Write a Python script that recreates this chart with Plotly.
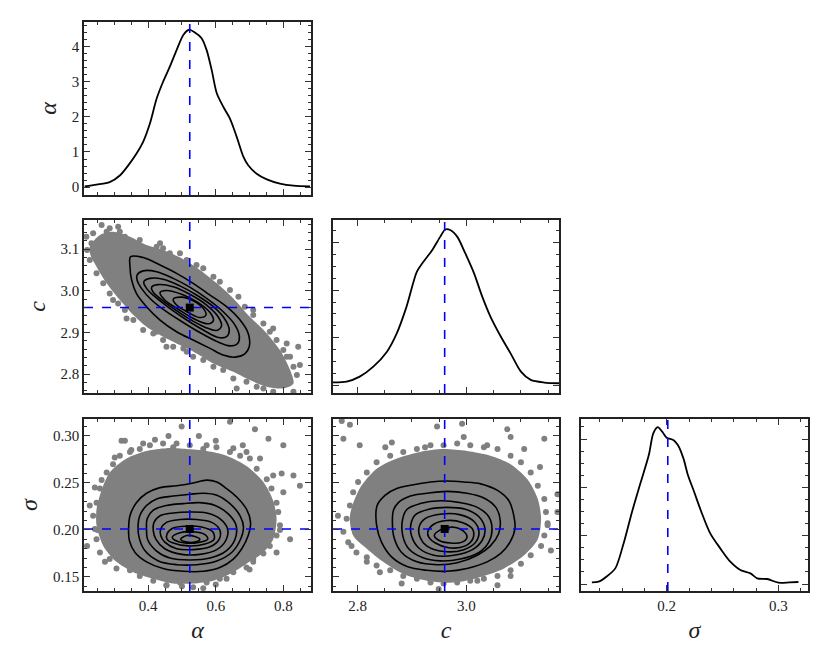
import plotly.graph_objects as go

# valeurs vraies (lignes bleues + carré noir)
alpha_true = 0.523
c_true = 2.960
sigma_true = 0.201

# bornes des axes
ALPHA_RANGE = [0.21, 0.882]
C_RANGE = [2.755, 3.170]
SIGMA_RANGE = [0.135, 0.318]
SIGMA_1D_RANGE = [0.1233, 0.3266]
PDF_A_RANGE = [-0.224, 4.70]
PDF_C_RANGE = [-0.33, 6.96]
PDF_S_RANGE = [-0.72, 17.07]

# densités marginales (1D)
alpha_x = [0.212, 0.247, 0.286, 0.316, 0.341, 0.365, 0.385, 0.405, 0.425, 0.444, 0.464, 0.484, 0.504, 0.521,
           0.538, 0.558, 0.573, 0.588, 0.603, 0.622, 0.642, 0.662, 0.682, 0.696, 0.721, 0.751, 0.790, 0.830, 0.879]
alpha_pdf = [0.02, 0.07, 0.14, 0.33, 0.62, 0.95, 1.29, 1.81, 2.52, 3.00, 3.43, 3.90, 4.33, 4.48,
             4.40, 4.24, 3.90, 3.33, 2.67, 2.29, 1.95, 1.43, 0.86, 0.62, 0.38, 0.22, 0.10, 0.04, 0.02]

c_x = [2.755, 2.780, 2.804, 2.829, 2.854, 2.872, 2.890, 2.909, 2.921, 2.937, 2.952, 2.961, 2.971, 2.983,
       2.998, 3.014, 3.029, 3.044, 3.063, 3.081, 3.100, 3.118, 3.143, 3.170]
c_pdf = [0.12, 0.15, 0.36, 0.78, 1.41, 2.18, 3.31, 4.78, 5.20, 5.69, 6.26, 6.56, 6.53, 6.26,
         5.55, 4.71, 3.73, 2.89, 2.05, 1.34, 0.57, 0.22, 0.11, 0.08]

sigma_x = [0.133, 0.139, 0.146, 0.154, 0.161, 0.169, 0.176, 0.184, 0.188, 0.192, 0.196, 0.200, 0.206, 0.210,
           0.215, 0.219, 0.224, 0.231, 0.239, 0.248, 0.257, 0.266, 0.275, 0.281, 0.290, 0.300, 0.310, 0.318]
sigma_pdf = [0.17, 0.24, 0.76, 1.62, 4.03, 7.48, 10.24, 13.34, 15.59, 16.24, 15.76, 15.14, 14.90, 14.38,
             13.00, 11.28, 9.72, 7.48, 5.24, 3.69, 2.31, 1.45, 1.10, 0.59, 0.52, 0.14, 0.17, 0.21]

# --- alpha / c ---
ac_cloud_alpha = [0.227, 0.257, 0.296, 0.346, 0.395, 0.444, 0.499, 0.553, 0.603, 0.652, 0.701, 0.751, 0.790, 0.820,
                  0.830, 0.800, 0.751, 0.701, 0.652, 0.593, 0.543, 0.494, 0.444, 0.395, 0.356, 0.316, 0.277, 0.247, 0.229]
ac_cloud_c = [3.106, 3.134, 3.142, 3.130, 3.110, 3.098, 3.078, 3.050, 3.018, 2.982, 2.938, 2.898, 2.858, 2.810,
              2.778, 2.766, 2.770, 2.786, 2.806, 2.826, 2.850, 2.870, 2.890, 2.914, 2.942, 2.978, 3.018, 3.058, 3.086]
ac_pts_alpha = [0.262, 0.286, 0.311, 0.232, 0.252, 0.336, 0.454, 0.425, 0.770, 0.810, 0.844, 0.849, 0.790,
                0.741, 0.770, 0.830, 0.435, 0.375, 0.217, 0.296, 0.711, 0.662, 0.514, 0.810,
                0.237, 0.247, 0.267, 0.277, 0.296, 0.316, 0.331, 0.351, 0.365, 0.385, 0.410, 0.425, 0.444,
                0.464, 0.494, 0.514, 0.543, 0.563, 0.593, 0.612, 0.642, 0.667, 0.686, 0.711, 0.741, 0.760,
                0.780, 0.800, 0.820, 0.830, 0.840, 0.810, 0.780, 0.741, 0.721, 0.691, 0.652, 0.622, 0.593,
                0.563, 0.533, 0.504, 0.474, 0.444, 0.415, 0.385, 0.356, 0.331, 0.311, 0.286, 0.267, 0.247,
                0.227, 0.219]
ac_pts_c = [3.158, 3.150, 3.154, 3.114, 3.078, 2.934, 2.866, 2.902, 2.910, 2.842, 2.866, 2.822, 2.782,
            2.766, 2.758, 2.758, 3.114, 3.122, 3.130, 2.978, 2.954, 2.766, 2.854, 2.874,
            3.138, 3.114, 3.130, 3.142, 3.134, 3.142, 3.130, 3.118, 3.110, 3.098, 3.098, 3.106, 3.102,
            3.090, 3.090, 3.074, 3.062, 3.054, 3.034, 3.022, 3.002, 2.986, 2.962, 2.942, 2.922, 2.902,
            2.882, 2.858, 2.842, 2.818, 2.798, 2.782, 2.774, 2.782, 2.770, 2.782, 2.790, 2.810, 2.818,
            2.834, 2.842, 2.862, 2.866, 2.882, 2.898, 2.906, 2.930, 2.954, 2.970, 2.994, 3.018, 3.042,
            3.074, 3.098]
ac_lev_alpha = [
    [0.348, 0.385, 0.435, 0.484, 0.533, 0.583, 0.632, 0.672, 0.696, 0.699, 0.686, 0.657, 0.622, 0.583, 0.533,
     0.484, 0.435, 0.395, 0.365, 0.351, 0.346],
    [0.367, 0.385, 0.425, 0.474, 0.523, 0.573, 0.622, 0.657, 0.670, 0.664, 0.642, 0.602, 0.553, 0.504, 0.454,
     0.410, 0.380, 0.367],
    [0.387, 0.405, 0.444, 0.494, 0.543, 0.593, 0.627, 0.640, 0.632, 0.608, 0.563, 0.514, 0.464, 0.420, 0.395],
    [0.410, 0.429, 0.474, 0.523, 0.573, 0.607, 0.617, 0.602, 0.568, 0.519, 0.469, 0.430, 0.413],
    [0.435, 0.454, 0.499, 0.548, 0.583, 0.593, 0.578, 0.538, 0.489, 0.449],
    [0.474, 0.499, 0.533, 0.563, 0.571, 0.553, 0.519, 0.484],
]
ac_lev_c = [
    [3.082, 3.080, 3.062, 3.042, 3.018, 2.990, 2.962, 2.930, 2.898, 2.866, 2.849, 2.841, 2.846, 2.862, 2.882,
     2.902, 2.930, 2.962, 2.994, 3.026, 3.058],
    [3.038, 3.048, 3.046, 3.030, 3.009, 2.982, 2.950, 2.918, 2.890, 2.873, 2.868, 2.879, 2.900, 2.924, 2.950,
     2.978, 3.006, 3.026],
    [3.022, 3.030, 3.028, 3.012, 2.990, 2.962, 2.932, 2.906, 2.890, 2.888, 2.906, 2.930, 2.958, 2.986, 3.006],
    [3.009, 3.015, 3.010, 2.992, 2.966, 2.938, 2.916, 2.905, 2.913, 2.934, 2.961, 2.985, 2.999],
    [2.996, 3.001, 2.992, 2.972, 2.948, 2.929, 2.921, 2.932, 2.956, 2.978],
    [2.980, 2.985, 2.976, 2.958, 2.942, 2.936, 2.948, 2.966],
]

# --- alpha / sigma ---
as_cloud_alpha = [0.257, 0.286, 0.336, 0.395, 0.454, 0.514, 0.573, 0.632, 0.691, 0.741, 0.770, 0.780, 0.770,
                  0.741, 0.691, 0.642, 0.593, 0.533, 0.474, 0.415, 0.356, 0.306, 0.267, 0.247, 0.247]
as_cloud_sigma = [0.237, 0.261, 0.276, 0.284, 0.287, 0.286, 0.284, 0.279, 0.268, 0.251, 0.231, 0.212, 0.190,
                  0.176, 0.164, 0.153, 0.146, 0.143, 0.143, 0.148, 0.155, 0.166, 0.183, 0.205, 0.222]
as_pts_alpha = [0.499, 0.642, 0.716, 0.756, 0.800, 0.830, 0.849, 0.795, 0.242, 0.227, 0.219, 0.272, 0.301, 0.321,
                0.385, 0.573, 0.652, 0.731, 0.563, 0.405, 0.711, 0.820, 0.770, 0.272, 0.331, 0.474, 0.691, 0.800,
                0.780, 0.454, 0.632, 0.350, 0.420, 0.460, 0.600, 0.550, 0.680, 0.300, 0.250, 0.290, 0.790, 0.500,
                0.600, 0.700,
                0.257, 0.247, 0.237, 0.242, 0.247, 0.257, 0.286, 0.306, 0.346, 0.375, 0.415, 0.454, 0.494,
                0.533, 0.573, 0.612, 0.652, 0.691, 0.711, 0.741, 0.760, 0.780, 0.790, 0.785, 0.780, 0.765,
                0.751, 0.721, 0.701, 0.672, 0.642, 0.602, 0.563, 0.523, 0.484, 0.444, 0.405, 0.375, 0.346,
                0.316, 0.296, 0.277, 0.262]
as_pts_sigma = [0.310, 0.315, 0.307, 0.297, 0.290, 0.258, 0.247, 0.260, 0.245, 0.226, 0.183, 0.166, 0.277, 0.295,
                0.292, 0.290, 0.287, 0.276, 0.138, 0.155, 0.166, 0.190, 0.258, 0.238, 0.295, 0.288, 0.283, 0.240,
                0.176, 0.141, 0.148, 0.285, 0.296, 0.300, 0.295, 0.300, 0.290, 0.260, 0.200, 0.185, 0.200, 0.140,
                0.142, 0.158,
                0.244, 0.229, 0.215, 0.201, 0.190, 0.176, 0.169, 0.159, 0.157, 0.151, 0.146, 0.141, 0.144,
                0.139, 0.144, 0.148, 0.155, 0.160, 0.169, 0.175, 0.183, 0.194, 0.205, 0.219, 0.229, 0.244,
                0.254, 0.265, 0.276, 0.279, 0.283, 0.288, 0.286, 0.290, 0.292, 0.292, 0.290, 0.286, 0.283,
                0.279, 0.270, 0.261, 0.253]
as_lev_alpha = [
    [0.346, 0.365, 0.395, 0.435, 0.484, 0.533, 0.573, 0.603, 0.632, 0.662, 0.691, 0.703, 0.696, 0.677, 0.652,
     0.612, 0.563, 0.504, 0.444, 0.395, 0.361, 0.344, 0.342],
    [0.375, 0.395, 0.425, 0.474, 0.524, 0.563, 0.603, 0.642, 0.672, 0.682, 0.672, 0.647, 0.603, 0.543, 0.484,
     0.430, 0.390, 0.373, 0.370],
    [0.397, 0.415, 0.454, 0.504, 0.553, 0.598, 0.637, 0.660, 0.657, 0.632, 0.583, 0.524, 0.464, 0.423, 0.398, 0.395],
    [0.417, 0.435, 0.474, 0.524, 0.573, 0.612, 0.635, 0.630, 0.603, 0.553, 0.499, 0.449, 0.423, 0.415],
    [0.437, 0.454, 0.494, 0.543, 0.588, 0.612, 0.610, 0.583, 0.533, 0.484, 0.449, 0.437],
    [0.456, 0.474, 0.514, 0.558, 0.591, 0.595, 0.568, 0.519, 0.474, 0.456],
    [0.471, 0.494, 0.533, 0.568, 0.576, 0.553, 0.509, 0.479],
    [0.496, 0.514, 0.538, 0.553, 0.538, 0.514],
]
as_lev_sigma = [
    [0.215, 0.229, 0.239, 0.245, 0.247, 0.250, 0.253, 0.251, 0.244, 0.235, 0.222, 0.208, 0.194, 0.180, 0.169,
     0.160, 0.156, 0.156, 0.159, 0.166, 0.176, 0.189, 0.201],
    [0.215, 0.226, 0.233, 0.236, 0.238, 0.239, 0.237, 0.228, 0.215, 0.203, 0.189, 0.176, 0.167, 0.163, 0.163,
     0.167, 0.178, 0.192, 0.205],
    [0.212, 0.221, 0.226, 0.228, 0.229, 0.226, 0.217, 0.205, 0.190, 0.178, 0.170, 0.168, 0.170, 0.178, 0.190, 0.201],
    [0.208, 0.215, 0.218, 0.219, 0.218, 0.212, 0.201, 0.189, 0.179, 0.174, 0.174, 0.180, 0.190, 0.199],
    [0.201, 0.208, 0.211, 0.211, 0.208, 0.200, 0.190, 0.182, 0.179, 0.180, 0.187, 0.194],
    [0.196, 0.202, 0.204, 0.203, 0.198, 0.190, 0.185, 0.183, 0.186, 0.190],
    [0.192, 0.197, 0.198, 0.195, 0.190, 0.187, 0.186, 0.189],
    [0.190, 0.194, 0.193, 0.190, 0.187, 0.187],
]

# --- c / sigma ---
cs_cloud_c = [2.786, 2.804, 2.835, 2.872, 2.915, 2.958, 3.001, 3.044, 3.081, 3.112, 3.131, 3.137, 3.131, 3.106,
              3.069, 3.026, 2.977, 2.927, 2.884, 2.847, 2.817, 2.792]
cs_cloud_sigma = [0.215, 0.244, 0.265, 0.276, 0.283, 0.286, 0.284, 0.279, 0.270, 0.254, 0.233, 0.212, 0.190, 0.173,
                  0.159, 0.150, 0.144, 0.146, 0.153, 0.166, 0.180, 0.194]
cs_pts_c = [2.771, 2.786, 2.774, 2.804, 2.851, 2.863, 2.946, 2.995, 3.075, 3.143, 3.135, 3.167, 3.149, 3.155,
            2.881, 2.789, 2.764, 2.934, 3.020, 2.949, 3.081, 2.992, 2.924, 3.038, 3.106, 3.081, 3.167, 2.817,
            2.841, 3.057,
            2.786, 2.780, 2.774, 2.783, 2.798, 2.817, 2.835, 2.860, 2.884, 2.909, 2.934, 2.958, 2.983,
            3.007, 3.032, 3.057, 3.081, 3.100, 3.118, 3.137, 3.143, 3.149, 3.146, 3.143, 3.131, 3.118,
            3.100, 3.081, 3.057, 3.032, 3.007, 2.983, 2.958, 2.934, 2.909, 2.884, 2.860, 2.835, 2.817,
            2.801, 2.792]
cs_pts_sigma = [0.316, 0.312, 0.297, 0.290, 0.288, 0.293, 0.310, 0.299, 0.307, 0.297, 0.267, 0.238, 0.207, 0.178,
                0.143, 0.183, 0.215, 0.150, 0.146, 0.137, 0.151, 0.313, 0.288, 0.290, 0.286, 0.299, 0.219, 0.166,
                0.155, 0.141,
                0.226, 0.212, 0.198, 0.187, 0.176, 0.171, 0.162, 0.157, 0.151, 0.148, 0.144, 0.143, 0.144,
                0.146, 0.148, 0.151, 0.157, 0.164, 0.173, 0.183, 0.194, 0.205, 0.219, 0.233, 0.247, 0.261,
                0.272, 0.279, 0.286, 0.288, 0.290, 0.292, 0.290, 0.290, 0.286, 0.283, 0.279, 0.272, 0.261,
                0.251, 0.240]
cs_lev_c = [
    [2.836, 2.851, 2.872, 2.903, 2.934, 2.964, 2.995, 3.026, 3.057, 3.078, 3.087, 3.089, 3.080, 3.063, 3.038,
     3.001, 2.964, 2.927, 2.891, 2.863, 2.844, 2.835],
    [2.866, 2.875, 2.897, 2.927, 2.964, 3.001, 3.032, 3.054, 3.062, 3.059, 3.044, 3.020, 2.983, 2.946, 2.909,
     2.881, 2.867, 2.864],
    [2.883, 2.891, 2.915, 2.952, 2.989, 3.020, 3.041, 3.047, 3.041, 3.023, 2.989, 2.952, 2.918, 2.894, 2.883],
    [2.898, 2.906, 2.931, 2.964, 2.998, 3.023, 3.034, 3.029, 3.011, 2.977, 2.940, 2.912, 2.899],
    [2.913, 2.924, 2.955, 2.989, 3.014, 3.023, 3.017, 2.995, 2.958, 2.927, 2.915],
    [2.929, 2.940, 2.964, 2.992, 3.011, 3.012, 2.998, 2.967, 2.943, 2.931],
    [2.941, 2.952, 2.974, 2.994, 3.001, 2.992, 2.971, 2.949],
]
cs_lev_sigma = [
    [0.226, 0.237, 0.244, 0.248, 0.251, 0.252, 0.251, 0.249, 0.242, 0.231, 0.215, 0.201, 0.187, 0.175, 0.166,
     0.159, 0.156, 0.157, 0.161, 0.171, 0.187, 0.205],
    [0.221, 0.229, 0.236, 0.239, 0.241, 0.239, 0.234, 0.224, 0.210, 0.196, 0.183, 0.173, 0.165, 0.163, 0.166,
     0.176, 0.192, 0.208],
    [0.212, 0.222, 0.228, 0.231, 0.229, 0.224, 0.214, 0.201, 0.187, 0.176, 0.169, 0.167, 0.171, 0.180, 0.194],
    [0.206, 0.216, 0.222, 0.224, 0.222, 0.214, 0.201, 0.189, 0.179, 0.173, 0.173, 0.181, 0.194],
    [0.203, 0.212, 0.217, 0.216, 0.209, 0.198, 0.187, 0.179, 0.177, 0.183, 0.192],
    [0.198, 0.206, 0.210, 0.208, 0.201, 0.191, 0.183, 0.181, 0.186, 0.192],
    [0.194, 0.200, 0.203, 0.199, 0.192, 0.187, 0.186, 0.189],
]

GRIS = '#808080'
BLEU = '#0000ff'
FONT = 'Liberation Serif'

fig = go.Figure()


def ferme(l):
    return list(l) + [l[0]]


def ligne_bleue(xs, ys, xa, ya):
    fig.add_trace(go.Scatter(x=xs, y=ys, mode='lines', xaxis=xa, yaxis=ya,
                             line=dict(color=BLEU, width=1.6, dash='dash'), hoverinfo='skip'))


def panneau_1d(xs, ys, vrai, rng_y, xa, ya):
    fig.add_trace(go.Scatter(x=xs, y=ys, mode='lines', xaxis=xa, yaxis=ya,
                             line=dict(color='black', width=1.8, shape='spline', smoothing=0.8)))
    ligne_bleue([vrai, vrai], rng_y, xa, ya)


def panneau_2d(cx, cy, px, py, lx, ly, vx, vy, rng_x, rng_y, xa, ya):
    # nuage dense : polygone gris + points isolés autour
    fig.add_trace(go.Scatter(x=ferme(cx), y=ferme(cy), mode='lines', fill='toself', fillcolor=GRIS,
                             line=dict(width=0, shape='spline', smoothing=0.8), xaxis=xa, yaxis=ya))
    fig.add_trace(go.Scatter(x=px, y=py, mode='markers', xaxis=xa, yaxis=ya,
                             marker=dict(color=GRIS, size=6)))
    for a, b in zip(lx, ly):
        fig.add_trace(go.Scatter(x=ferme(a), y=ferme(b), mode='lines', xaxis=xa, yaxis=ya,
                                 line=dict(color='black', width=1.6, shape='spline', smoothing=1.0)))
    ligne_bleue([vx, vx], rng_y, xa, ya)
    ligne_bleue(rng_x, [vy, vy], xa, ya)
    fig.add_trace(go.Scatter(x=[vx], y=[vy], mode='markers', xaxis=xa, yaxis=ya,
                             marker=dict(color='black', symbol='square', size=8)))


panneau_1d(alpha_x, alpha_pdf, alpha_true, PDF_A_RANGE, 'x', 'y')
panneau_2d(ac_cloud_alpha, ac_cloud_c, ac_pts_alpha, ac_pts_c, ac_lev_alpha, ac_lev_c,
           alpha_true, c_true, ALPHA_RANGE, C_RANGE, 'x2', 'y2')
panneau_1d(c_x, c_pdf, c_true, PDF_C_RANGE, 'x3', 'y3')
panneau_2d(as_cloud_alpha, as_cloud_sigma, as_pts_alpha, as_pts_sigma, as_lev_alpha, as_lev_sigma,
           alpha_true, sigma_true, ALPHA_RANGE, SIGMA_RANGE, 'x4', 'y4')
panneau_2d(cs_cloud_c, cs_cloud_sigma, cs_pts_c, cs_pts_sigma, cs_lev_c, cs_lev_sigma,
           c_true, sigma_true, C_RANGE, SIGMA_RANGE, 'x5', 'y5')
panneau_1d(sigma_x, sigma_pdf, sigma_true, PDF_S_RANGE, 'x6', 'y6')


def axe(domaine, rng, pas, mineur, labels, ancre, titre=None, fmt=None):
    d = dict(domain=domaine, range=rng, dtick=pas, tick0=0, ticks='inside', ticklen=6, tickwidth=1,
             tickcolor='#333', showline=True, linecolor='#222', linewidth=1.8, mirror='allticks',
             showgrid=False, zeroline=False, showticklabels=labels, anchor=ancre,
             tickfont=dict(family=FONT, size=15, color='#222'),
             minor=dict(dtick=mineur, ticks='inside', ticklen=3, tickwidth=1, tickcolor='#333', showgrid=False))
    if fmt:
        d['tickformat'] = fmt
    if titre:
        d['title'] = dict(text=titre, font=dict(family=FONT, size=24, color='#222'), standoff=8)
    return d


# domaines (la page html ajoute une marge de 8 px)
COL = [[0.0916, 0.3651], [0.3916, 0.6639], [0.6904, 0.9639]]
ROW = [[0.7184, 0.9789], [0.4202, 0.6807], [0.122, 0.381]]

fig.update_layout(
    width=830, height=664, showlegend=False,
    margin=dict(l=0, r=0, t=0, b=0),
    paper_bgcolor='white', plot_bgcolor='white',
    xaxis=axe(COL[0], ALPHA_RANGE, 0.2, 0.05, False, 'y'),
    yaxis=axe(ROW[0], PDF_A_RANGE, 1, 0.2, True, 'x', '<i>α</i>'),
    xaxis2=axe(COL[0], ALPHA_RANGE, 0.2, 0.05, False, 'y2'),
    yaxis2=axe(ROW[1], C_RANGE, 0.1, 0.02, True, 'x2', '<i>c</i>', '.1f'),
    xaxis3=axe(COL[1], C_RANGE, 0.2, 0.05, False, 'y3'),
    yaxis3=axe(ROW[1], PDF_C_RANGE, 2, 0.5, False, 'x3'),
    xaxis4=axe(COL[0], ALPHA_RANGE, 0.2, 0.05, True, 'y4', '<i>α</i>', '.1f'),
    yaxis4=axe(ROW[2], SIGMA_RANGE, 0.05, 0.01, True, 'x4', '<i>σ</i>', '.2f'),
    xaxis5=axe(COL[1], C_RANGE, 0.2, 0.05, True, 'y5', '<i>c</i>', '.1f'),
    yaxis5=axe(ROW[2], SIGMA_RANGE, 0.05, 0.01, False, 'x5'),
    xaxis6=axe(COL[2], SIGMA_1D_RANGE, 0.1, 0.02, True, 'y6', '<i>σ</i>', '.1f'),
    yaxis6=axe(ROW[2], PDF_S_RANGE, 5, 1.25, False, 'x6'),
)

fig.write_html("out.html")
